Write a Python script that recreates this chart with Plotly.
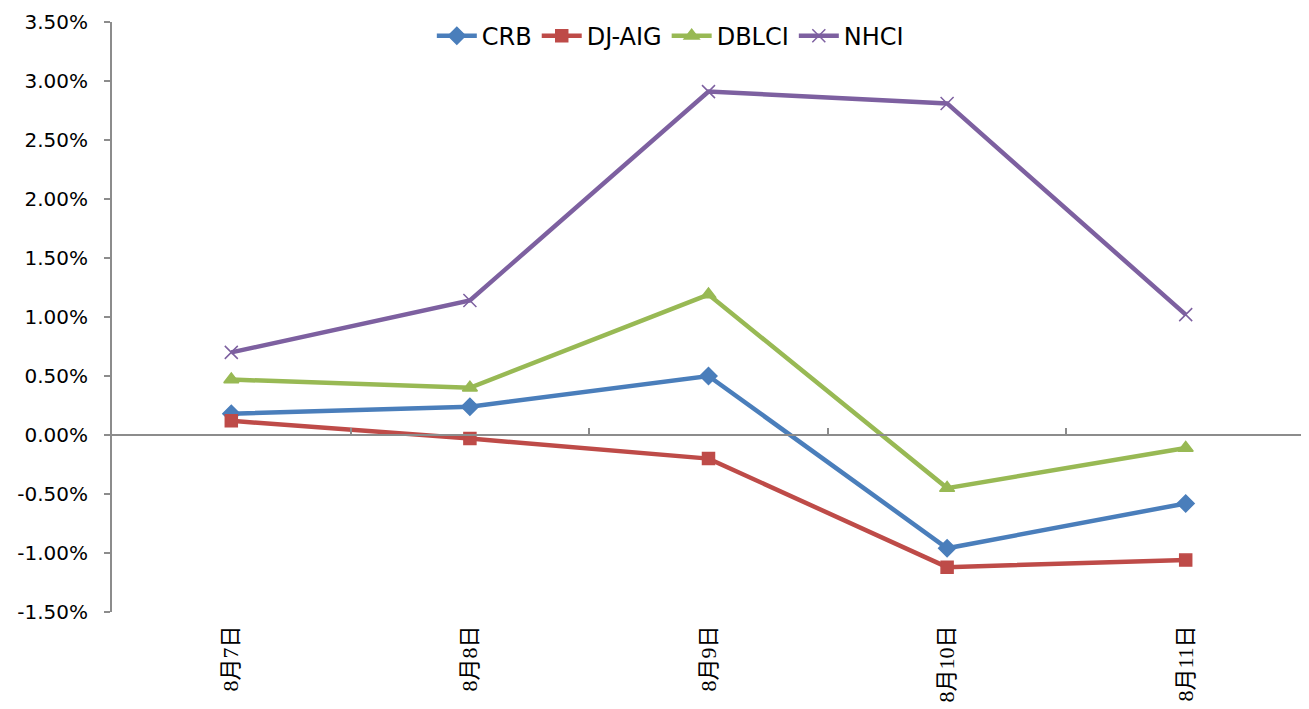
import plotly.graph_objects as go

categories = ["8月7日", "8月8日", "8月9日", "8月10日", "8月11日"]
crb = [0.0018, 0.0024, 0.0050, -0.0096, -0.0058]
djaig = [0.0012, -0.0003, -0.0020, -0.0112, -0.0106]
dblci = [0.0047, 0.0040, 0.0119, -0.0045, -0.0011]
nhci = [0.0070, 0.0114, 0.0291, 0.0281, 0.0102]

y_ticks = [-0.015, -0.01, -0.005, 0, 0.005, 0.01, 0.015, 0.02, 0.025, 0.03, 0.035]
y_labels = ["-1.50%", "-1.00%", "-0.50%", "0.00%", "0.50%", "1.00%", "1.50%",
            "2.00%", "2.50%", "3.00%", "3.50%"]
y_range = [-0.015, 0.035]

series = [
    ("CRB", crb, "#4A7EBB", "diamond", 13),
    ("DJ-AIG", djaig, "#BE4B48", "square", 12),
    ("DBLCI", dblci, "#98B954", "triangle-up", 13),
    ("NHCI", nhci, "#7D60A0", "x-thin-open", 13),
]

fig = go.Figure()
for name, vals, color, sym, size in series:
    fig.add_trace(go.Scatter(
        x=categories, y=vals, name=name, mode="lines+markers",
        line=dict(color=color, width=4.5),
        marker=dict(symbol=sym, size=size, color=color,
                    line=dict(color=color, width=1.5)),
    ))

# invisible trace to carry the zero-positioned axis
fig.add_trace(go.Scatter(x=categories, y=[None] * len(categories), xaxis="x2",
                         showlegend=False, hoverinfo="skip"))

zero_pos = (0 - y_range[0]) / (y_range[1] - y_range[0])
x_range = [-0.5, len(categories) - 0.5]

# page body has an 8px default margin: size the figure to fill the 1309x709 window
fig.update_layout(
    width=1301, height=701,
    margin=dict(l=104, r=4, t=14, b=97),
    plot_bgcolor="white", paper_bgcolor="white",
    font=dict(family="DejaVu Sans, Arial, sans-serif", size=20, color="black"),
    legend=dict(orientation="h", x=0.468, xanchor="center", y=0.976, yanchor="middle",
                font=dict(size=24), itemwidth=40, tracegroupgap=0,
                bgcolor="rgba(0,0,0,0)"),
    xaxis=dict(type="category", range=x_range, showline=False, ticks="", tickangle=-90,
               tickfont=dict(family="Liberation Serif, Noto Sans CJK SC, serif", size=22),
               showgrid=False, zeroline=False, ticklabelstandoff=8, automargin=False),
    xaxis2=dict(type="category", overlaying="x", matches="x", anchor="free",
                position=zero_pos, showline=True, linecolor="#8C8C8C", linewidth=2,
                ticks="inside", ticklen=6, tickwidth=2, tickcolor="#8C8C8C",
                tickson="boundaries", showticklabels=False, showgrid=False,
                zeroline=False),
    yaxis=dict(range=y_range, tickvals=y_ticks, ticktext=y_labels,
               showline=True, linecolor="#8C8C8C", linewidth=2,
               ticks="outside", ticklen=6, tickwidth=2, tickcolor="#8C8C8C",
               showgrid=False, zeroline=False, ticklabelstandoff=12,
               tickfont=dict(size=20), automargin=False),
)

fig.write_html("out.html")
